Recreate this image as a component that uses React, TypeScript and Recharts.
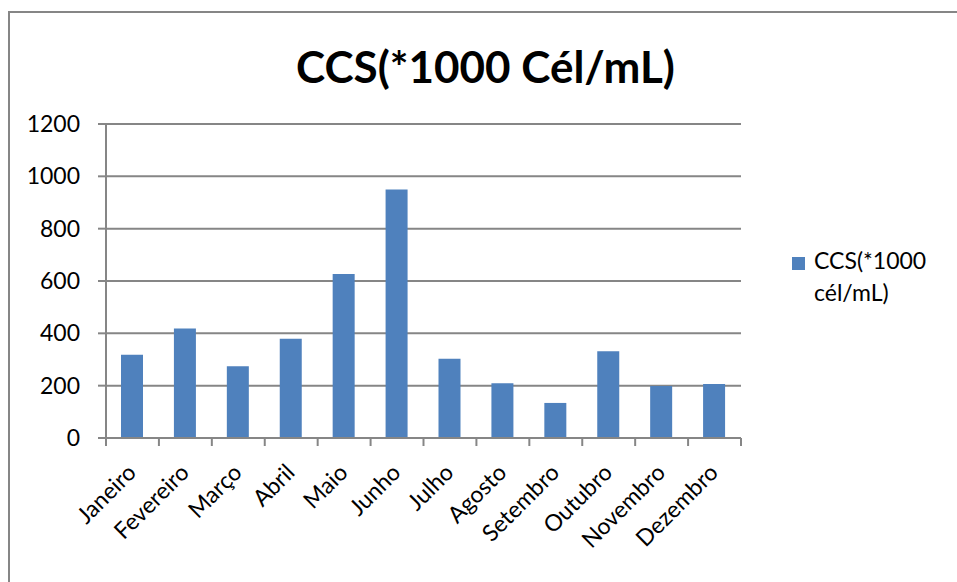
import { Bar, BarChart, CartesianGrid, XAxis, YAxis } from "recharts"

// chart values
const months = [
  "Janeiro",
  "Fevereiro",
  "Março",
  "Abril",
  "Maio",
  "Junho",
  "Julho",
  "Agosto",
  "Setembro",
  "Outubro",
  "Novembro",
  "Dezembro",
]
const ccsValues = [318, 418, 274, 379, 627, 950, 303, 209, 134, 332, 199, 206]
const yTicks = [0, 200, 400, 600, 800, 1000, 1200]
const chartTitle = "CCS(*1000 Cél/mL)"
const seriesName = "CCS(*1000 cél/mL)"

const data = months.map((m, i) => ({ month: m, ccs: ccsValues[i] }))

const W = 957
const H = 582
const LEFT = 106
const RIGHT = 216
const TOP = 124
const BOTTOM = 144
const FONT = "Lato, 'Open Sans', sans-serif"
const GRID = "#868686"
const BLUE = "#4F81BD"

const band = (W - LEFT - RIGHT) / months.length

function MonthTick(props: any) {
  const { x, y, payload, index } = props
  const left = x - band / 2
  return (
    <g>
      <line x1={left} y1={y} x2={left} y2={y + 8} stroke={GRID} strokeWidth={2} />
      {index === months.length - 1 && (
        <line x1={x + band / 2} y1={y} x2={x + band / 2} y2={y + 8} stroke={GRID} strokeWidth={2} />
      )}
      <text
        x={x + 5}
        y={y + 36}
        textAnchor="end"
        transform={`rotate(-45 ${x + 5} ${y + 36})`}
        fontFamily={FONT}
        fontSize={23}
        fill="#000"
      >
        {payload.value}
      </text>
    </g>
  )
}

export default function App() {
  return (
    <div
      style={{
        position: "fixed",
        left: 0,
        top: 0,
        width: W,
        height: H,
        overflow: "hidden",
        background: "#fff",
      }}
    >
      {/* outer chart frame, right/bottom edges fall off the picture */}
      <div
        style={{
          position: "absolute",
          left: 8,
          top: 11,
          width: 2000,
          height: 2000,
          border: `2px solid ${GRID}`,
        }}
      />
      <div
        style={{
          position: "absolute",
          left: 0,
          top: 44,
          width: 971,
          textAlign: "center",
          fontFamily: FONT,
          fontWeight: 700,
          fontSize: 44,
          lineHeight: "44px",
          color: "#000",
          whiteSpace: "nowrap",
        }}
      >
        {chartTitle}
      </div>
      <div style={{ position: "absolute", left: 0, top: 0 }}>
        <BarChart
          width={W}
          height={H}
          data={data}
          margin={{ top: TOP, right: RIGHT, left: 0, bottom: BOTTOM - 100 }}
        >
          <CartesianGrid vertical={false} stroke={GRID} strokeWidth={2} />
          <XAxis
            dataKey="month"
            interval={0}
            height={100}
            tickLine={false}
            tickSize={0}
            tickMargin={0}
            axisLine={{ stroke: GRID, strokeWidth: 2 }}
            tick={<MonthTick />}
          />
          <YAxis
            width={LEFT}
            domain={[0, 1200]}
            ticks={yTicks}
            interval={0}
            tickSize={8}
            tickMargin={18}
            axisLine={{ stroke: GRID, strokeWidth: 2 }}
            tickLine={{ stroke: GRID, strokeWidth: 2 }}
            tick={{ fill: "#000", fontSize: 23, fontFamily: FONT }}
          />
          <Bar dataKey="ccs" name={seriesName} fill={BLUE} barSize={22} isAnimationActive={false} />
        </BarChart>
      </div>
      <div
        style={{
          position: "absolute",
          left: 792,
          top: 244,
          width: 150,
          display: "flex",
          alignItems: "flex-start",
          fontFamily: FONT,
          fontSize: 23,
          lineHeight: "32px",
          color: "#000",
        }}
      >
        <div style={{ width: 13, height: 13, background: BLUE, marginTop: 13, marginRight: 9, flex: "none" }} />
        <div style={{ width: 120 }}>{seriesName}</div>
      </div>
    </div>
  )
}
